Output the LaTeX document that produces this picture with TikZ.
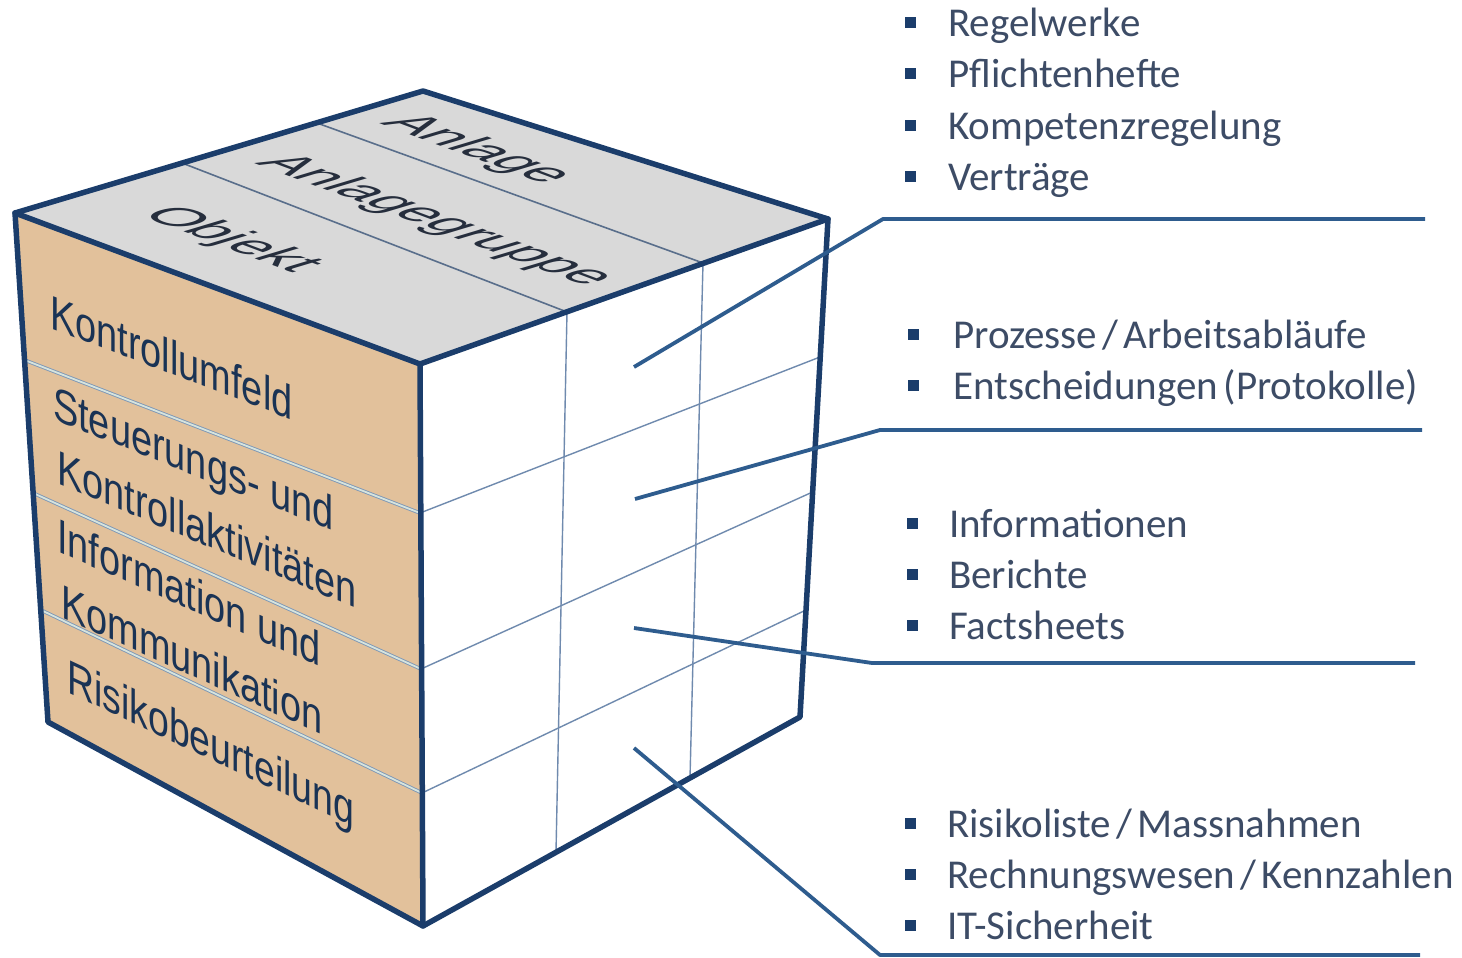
\documentclass[tikz,border=0pt]{standalone}
\usepackage{fontspec}
\setmainfont{Carlito}
\newfontfamily\cubefont{Liberation Sans}
\newcommand{\tightspaces}{\spaceskip=0.13em\relax}
\definecolor{edgeblue}{HTML}{1B3D6B}
\definecolor{gridblue}{HTML}{6F8AAE}
\definecolor{topgray}{HTML}{D9D9D9}
\definecolor{facetan}{HTML}{E2C19B}
\definecolor{conblue}{HTML}{2E5C8E}
\definecolor{itemtext}{HTML}{3D4C66}
\definecolor{cubetext}{HTML}{1A3355}
\definecolor{toptext}{HTML}{262E3D}
\definecolor{bandline}{HTML}{7E97B5}
\definecolor{bandlight}{HTML}{D6E4DE}
\begin{document}
\begin{tikzpicture}[x=1pt,y=-1pt,
  outline/.style={draw=edgeblue,line width=5.5pt,line join=round,line cap=round},
  gridline/.style={draw=gridblue,line width=1.4pt},
  topline/.style={draw=gridblue!80!black,line width=1.6pt},
  bandsep/.style={draw=bandline,line width=0.9pt,double=bandlight,double distance=1.8pt},
  conn/.style={draw=conblue,line width=3.8pt,line join=round},
  item/.style={anchor=base west,inner sep=0pt,text=itemtext,font=\fontsize{41}{48}\selectfont,execute at begin node=\tightspaces},
  bul/.style={fill=edgeblue,minimum size=11pt,inner sep=0pt},
  lefttxt/.style={anchor=base west,inner sep=0pt,text=cubetext,font=\cubefont\fontsize{48}{56}\selectfont},
  toptxt/.style={anchor=base west,inner sep=0pt,text=toptext,font=\cubefont\fontsize{57}{64}\selectfont,cm={0.937,-0.349,0.958,0.287,(0,0)}}
]
\useasboundingbox (0,0) rectangle (1462,958);
% cube corners
\coordinate (A) at (15,213);
\coordinate (B) at (423,91);
\coordinate (C) at (828,219);
\coordinate (D) at (420,364);
\coordinate (E) at (423,926);
\coordinate (F) at (800,717);
\coordinate (G) at (48,722);
% faces
\fill[topgray] (A)--(B)--(C)--(D)--cycle;
\fill[facetan] (A)--(D)--(E)--(G)--cycle;
\fill[white] (D)--(C)--(F)--(E)--cycle;
% top face dividers
\coordinate (t1a) at (317,123); \coordinate (t1b) at (703,263);
\coordinate (t2a) at (182,163); \coordinate (t2b) at (567,312);
\draw[topline] (t1a)--(t1b);
\draw[topline] (t2a)--(t2b);
% right face grid
\coordinate (v1b) at (556,852);
\coordinate (v2b) at (690,778);
\draw[gridline] (t2b)--(v1b);
\draw[gridline] (t1b)--(v2b);
\coordinate (h1a) at (420,513); \coordinate (h1b) at (820,357);
\coordinate (h2a) at (421,669); \coordinate (h2b) at (812.6,492);
\coordinate (h3a) at (422,793); \coordinate (h3b) at (806,610);
\draw[gridline] (h1a)--(h1b);
\draw[gridline] (h2a)--(h2b);
\draw[gridline] (h3a)--(h3b);
% left face band separators
\coordinate (l1) at (24.5,360);
\coordinate (l2) at (33,493);
\coordinate (l3) at (41,610);
\draw[bandsep] (l1)--(h1a);
\draw[bandsep] (l2)--(h2a);
\draw[bandsep] (l3)--(h3a);
% outline
\draw[outline] (A)--(B)--(C)--(F)--(E)--(G)--cycle;
\draw[outline] (A)--(D)--(C);
\draw[outline] (D)--(E);
% top face texts
\begin{scope}[shift={(379,123)}]\node[toptxt] (tanl) at (0,0) {Anlage};\end{scope}
\begin{scope}[shift={(254,163)}]\node[toptxt] (tgrp) at (0,0) {Anlagegruppe};\end{scope}
\begin{scope}[shift={(139,215)}]\node[toptxt] (tobj) at (0,0) {Objekt};\end{scope}
% left face texts
\begin{scope}[shift={(50,328)}]\node[lefttxt,cm={0.79,-0.300,0,1,(0,0)}] (kuf) at (0,0) {Kontrollumfeld};\end{scope}
\begin{scope}[shift={(53,419)}]\node[lefttxt,cm={0.79,-0.316,0,1,(0,0)}] (stu) at (0,0) {Steuerungs- und};\end{scope}
\begin{scope}[shift={(57,483)}]\node[lefttxt,cm={0.79,-0.332,0,1,(0,0)}] (kak) at (0,0) {Kontrollaktivitäten};\end{scope}
\begin{scope}[shift={(57,551)}]\node[lefttxt,cm={0.79,-0.348,0,1,(0,0)}] (inf) at (0,0) {Information und};\end{scope}
\begin{scope}[shift={(61,617)}]\node[lefttxt,cm={0.79,-0.356,0,1,(0,0)}] (kom) at (0,0) {Kommunikation};\end{scope}
\begin{scope}[shift={(67,692)}]\node[lefttxt,cm={0.78,-0.367,0,1,(0,0)}] (rbu) at (0,0) {Risikobeurteilung};\end{scope}
% bullet lists
\node[bul] (b11) at (910,23) {}; \node[item] (i11) at (948,37) {Regelwerke};
\node[bul] (b12) at (910,74) {}; \node[item] (i12) at (948,88) {Pflichtenhefte};
\node[bul] (b13) at (910,125) {}; \node[item] (i13) at (948,139) {Kompetenzregelung};
\node[bul] (b14) at (910,176) {}; \node[item] (i14) at (948,190) {Verträge};
\node[bul] (b21) at (913,334) {}; \node[item] (i21) at (953,348) {Prozesse / Arbeitsabläufe};
\node[bul] (b22) at (913,385) {}; \node[item] (i22) at (953,399) {Entscheidungen (Protokolle)};
\node[bul] (b31) at (912,523) {}; \node[item] (i31) at (949,537) {Informationen};
\node[bul] (b32) at (912,574) {}; \node[item] (i32) at (949,588) {Berichte};
\node[bul] (b33) at (912,625) {}; \node[item] (i33) at (949,639) {Factsheets};
\node[bul] (b41) at (910,823) {}; \node[item] (i41) at (947,837) {Risikoliste / Massnahmen};
\node[bul] (b42) at (910,874) {}; \node[item] (i42) at (947,888) {Rechnungswesen / Kennzahlen};
\node[bul] (b43) at (910,925) {}; \node[item] (i43) at (947,939) {IT-Sicherheit};
% connectors
\coordinate (c1s) at (634,367); \coordinate (c1k) at (883,219); \coordinate (c1e) at (1425,219);
\coordinate (c2s) at (635,499); \coordinate (c2k) at (880,430); \coordinate (c2e) at (1422,430);
\coordinate (c3s) at (634,628); \coordinate (c3k) at (872,663); \coordinate (c3e) at (1415,663);
\coordinate (c4s) at (634,748); \coordinate (c4k) at (880,955); \coordinate (c4e) at (1420,955);
\draw[conn] (c1s)--(c1k)--(c1e);
\draw[conn] (c2s)--(c2k)--(c2e);
\draw[conn] (c3s)--(c3k)--(c3e);
\draw[conn] (c4s)--(c4k)--(c4e);
\end{tikzpicture}
\end{document}
